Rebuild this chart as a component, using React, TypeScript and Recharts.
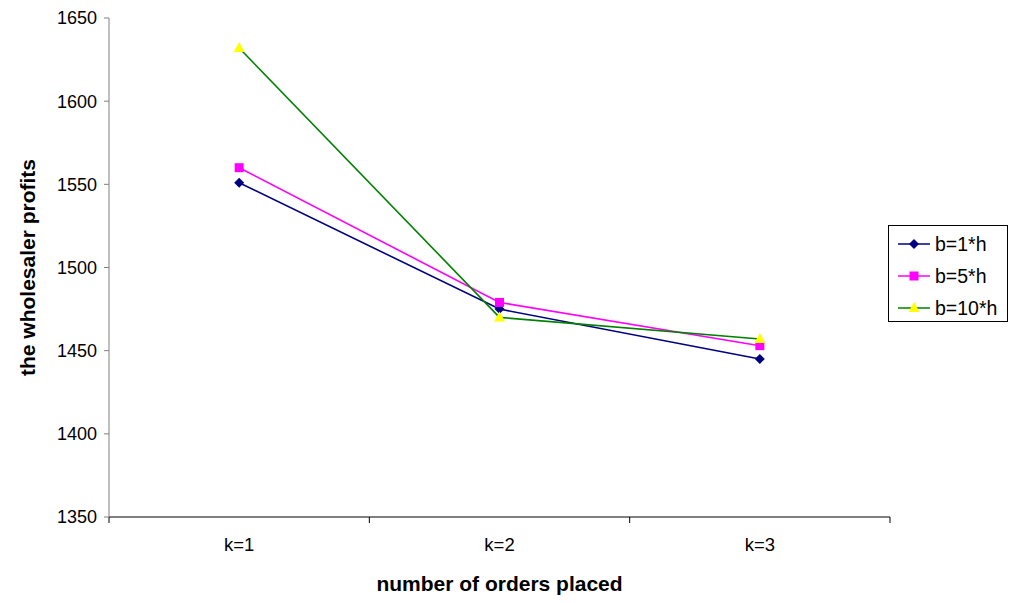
import React from "react";
import { Line, LineChart, XAxis, YAxis } from "recharts";

const categories = ["k=1", "k=2", "k=3"];
const b1 = [1551, 1475, 1445];
const b5 = [1560, 1479, 1453];
const b10 = [1632, 1470, 1457];
const yTicks = [1350, 1400, 1450, 1500, 1550, 1600, 1650];

const series = [
  { key: "b1", name: "b=1*h", stroke: "#000080", fill: "#000080", shape: "diamond" },
  { key: "b5", name: "b=5*h", stroke: "#FF00FF", fill: "#FF00FF", shape: "square" },
  { key: "b10", name: "b=10*h", stroke: "#008000", fill: "#FFFF00", shape: "triangle" },
];

const data = categories.map((c, i) => ({ x: i + 1, b1: b1[i], b5: b5[i], b10: b10[i] }));

const FONT = "'Liberation Sans', Arial, sans-serif";

const Marker = ({ cx, cy, shape, fill }: any) => {
  if (cx == null || cy == null) return null;
  if (shape === "diamond")
    return <polygon points={`${cx},${cy - 5} ${cx + 5},${cy} ${cx},${cy + 5} ${cx - 5},${cy}`} fill={fill} />;
  if (shape === "square") return <rect x={cx - 4.5} y={cy - 4.5} width={9} height={9} fill={fill} />;
  return <polygon points={`${cx},${cy - 6} ${cx + 5.5},${cy + 4} ${cx - 5.5},${cy + 4}`} fill={fill} />;
};

// legend drawn as plain html so it doesn't eat into the plot area
const LegendBox = () => (
  <div
    style={{
      position: "absolute",
      left: 888,
      top: 225,
      width: 120,
      height: 97,
      border: "1px solid #000",
      background: "#fff",
      boxSizing: "border-box",
      padding: "2px 0 0 9px",
      fontFamily: FONT,
      fontSize: 19.5,
      lineHeight: "20px",
    }}
  >
    {series.map((s) => (
      <div key={s.key} style={{ display: "flex", alignItems: "center", height: 32 }}>
        <svg width={32} height={14} style={{ marginRight: 5, flex: "none" }}>
          <line x1={0} y1={7} x2={32} y2={7} stroke={s.stroke} strokeWidth={1.5} />
          <Marker cx={16} cy={7} shape={s.shape} fill={s.fill} />
        </svg>
        <span style={{ whiteSpace: "nowrap" }}>{s.name}</span>
      </div>
    ))}
  </div>
);

export default function App() {
  return (
    <div style={{ position: "absolute", left: 0, top: 0, width: 1013, height: 603, background: "#fff" }}>
      <LineChart width={1013} height={603} data={data} margin={{ top: 18, right: 123, left: 0, bottom: 0 }}>
        <XAxis
          xAxisId="1labels"
          dataKey="x"
          type="number"
          domain={[0.5, 3.5]}
          ticks={[1, 2, 3]}
          tickFormatter={(v: number) => categories[v - 1]}
          height={85}
          axisLine={false}
          tickLine={false}
          tickSize={6}
          tickMargin={14}
          tick={{ fill: "#000", fontSize: 18.5, fontFamily: FONT }}
          label={{
            value: "number of orders placed",
            position: "insideBottom",
            offset: 12,
            style: { fill: "#000", fontSize: 21, fontWeight: "bold", fontFamily: FONT },
          }}
        />
        <XAxis
          xAxisId="0marks"
          dataKey="x"
          type="number"
          domain={[0.5, 3.5]}
          ticks={[0.5, 1.5, 2.5, 3.5]}
          tickFormatter={() => ""}
          height={1}
          stroke="#000"
          tickSize={6}
          allowDataOverflow
        />
        <YAxis
          domain={[1350, 1650]}
          ticks={yTicks}
          width={109}
          stroke="#808080"
          tickSize={5}
          tickMargin={7}
          tick={{ fill: "#000", fontSize: 18, fontFamily: FONT }}
          label={{
            content: ({ viewBox }: any) => {
              const x = viewBox.x + 27;
              const y = viewBox.y + viewBox.height / 2;
              return (
                <text
                  x={x}
                  y={y}
                  transform={`rotate(-90 ${x} ${y})`}
                  textAnchor="middle"
                  dominantBaseline="central"
                  style={{ fill: "#000", fontSize: 21, fontWeight: "bold", fontFamily: FONT }}
                >
                  the wholesaler profits
                </text>
              );
            },
          }}
        />
        {series.map((s) => (
          <Line
            key={s.key}
            xAxisId="0marks"
            dataKey={s.key}
            name={s.name}
            stroke={s.stroke}
            strokeWidth={1.6}
            isAnimationActive={false}
            dot={(p: any) => <Marker key={`${s.key}-${p.index}`} cx={p.cx} cy={p.cy} shape={s.shape} fill={s.fill} />}
            activeDot={false}
          />
        ))}
      </LineChart>
      <LegendBox />
    </div>
  );
}
